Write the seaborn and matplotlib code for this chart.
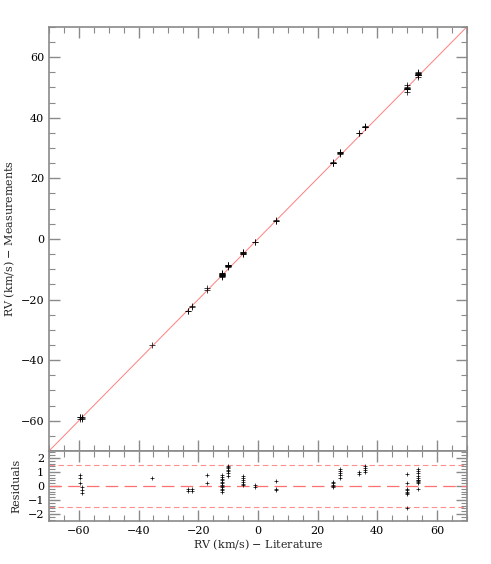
import numpy as np
import matplotlib
matplotlib.use("Agg")
import matplotlib.pyplot as plt
import seaborn as sns
from matplotlib.ticker import MultipleLocator

# literature RV (km/s) for each measurement, and the residual (measured - literature)
lit_rv = [-59.5, -59.5, -59.5, -58.8, -58.8, -58.8,
          -35.5,
          -23.5, -23.5, -22.0, -22.0,
          -17.0, -17.0,
          -12.0, -12.0, -12.0, -12.0, -12.0, -12.0, -12.0, -12.0, -12.0, -12.0, -12.0, -12.0,
          -10.0, -10.0, -10.0, -10.0, -10.0, -10.0, -10.0,
          -5.0, -5.0, -5.0, -5.0, -5.0, -5.0,
          -1.0, -1.0,
          6.0, 6.0, 6.0,
          25.0, 25.0, 25.0, 25.0, 25.0,
          27.5, 27.5, 27.5, 27.5, 27.5,
          34.0, 34.0,
          35.8, 35.8, 35.8, 35.8,
          50.0, 50.0, 50.0, 50.0, 50.0, 50.0, 50.0, 50.0,
          53.8, 53.8, 53.8, 53.8, 53.8, 53.8, 53.8, 53.8, 53.8, 53.8, 53.8]
residual = [0.75, 0.6, 0.2, -0.05, -0.25, -0.5,
            0.6,
            -0.2, -0.35, -0.2, -0.35,
            0.8, 0.2,
            0.75, 0.65, 0.5, 0.4, 0.3, 0.2, 0.1, 0.0, -0.1, -0.2, -0.3, -0.45,
            1.45, 1.35, 1.25, 1.15, 1.05, 0.95, 0.7,
            0.7, 0.6, 0.45, 0.3, 0.15, 0.05,
            0.1, -0.1,
            0.35, -0.2, -0.25,
            0.3, 0.2, 0.1, 0.0, -0.1,
            1.2, 1.1, 0.9, 0.75, 0.6,
            1.0, 0.85,
            1.45, 1.3, 1.15, 1.0,
            0.85, 0.2, -0.2, -0.3, -0.4, -0.5, -0.55, -1.55,
            1.2, 1.05, 0.9, 0.7, 0.55, 0.45, 0.4, 0.35, 0.3, 0.2, -0.2]
meas_rv = list(np.array(lit_rv) + np.array(residual))

ref_levels = [-1.5, 1.5]

sns.set_style("ticks")
plt.rcParams['font.family'] = ['DejaVu Serif']
plt.rcParams['font.size'] = 8

fig = plt.figure(figsize=(4.91, 5.64), dpi=100)
ax = fig.add_axes([0.0998, 0.2004, 0.851, 0.752])
axr = fig.add_axes([0.0998, 0.0762, 0.851, 0.1242], sharex=ax)

frame_col = '#8a8a8a'

# one-to-one line
ax.plot([-70, 70], [-70, 70], color='#ff7f7f', lw=0.7, zorder=1)
sns.scatterplot(x=lit_rv, y=meas_rv, ax=ax, marker='+', color='black',
                s=20, linewidth=0.6, alpha=0.85, zorder=3)

axr.axhline(0, color='#ff7070', lw=0.9, dashes=(10, 5))
for lv in ref_levels:
    axr.axhline(lv, color='#ff9090', lw=0.8, dashes=(5, 3))
sns.scatterplot(x=lit_rv, y=residual, ax=axr, marker='+', color='black',
                s=6, linewidth=0.5, zorder=3)

ax.set_xlim(-70, 70)
ax.set_ylim(-70, 70)
axr.set_ylim(-2.5, 2.5)

ax.xaxis.set_major_locator(MultipleLocator(20))
ax.xaxis.set_minor_locator(MultipleLocator(5))
ax.yaxis.set_major_locator(MultipleLocator(20))
ax.yaxis.set_minor_locator(MultipleLocator(5))
axr.yaxis.set_major_locator(MultipleLocator(1))
axr.yaxis.set_minor_locator(MultipleLocator(0.2))

for a in (ax, axr):
    a.tick_params(which='both', direction='in', top=True, right=True,
                  color=frame_col, labelcolor='black')
    a.tick_params(which='major', length=8, width=1.0)
    a.tick_params(which='minor', length=4, width=0.8)
    for sp in a.spines.values():
        sp.set_color(frame_col)
        sp.set_linewidth(1.2)
    a.grid(False)

ax.tick_params(labelbottom=False)
ax.set_ylabel('RV (km/s) $-$ Measurements')
ax.yaxis.set_label_coords(-0.077, 0.5)
axr.set_ylabel('Residuals')
axr.yaxis.set_label_coords(-0.065, 0.5)
axr.set_xlabel('RV (km/s) $-$ Literature', labelpad=1)

fig.savefig('out.png', dpi=100)
